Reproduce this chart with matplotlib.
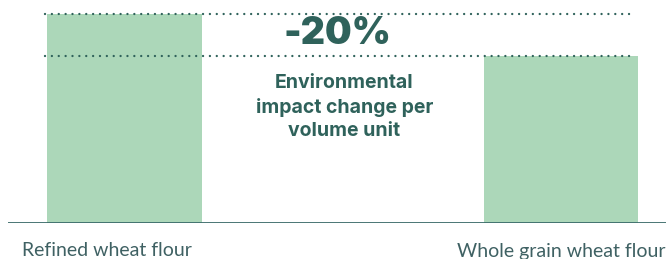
import matplotlib.pyplot as plt
import matplotlib.transforms as mtransforms

# ===== DATA =====
categories = ["Refined wheat flour", "Whole grain wheat flour"]
impact = [100, 80]
change_label = "-20%"
note = "Environmental\nimpact change per\nvolume unit"

BAR_COLOR = "#acd7b9"
DARK = "#2f625b"
LABEL_COLOR = "#3f6163"

fig = plt.figure(figsize=(6.66, 2.59), dpi=100)
ax = fig.add_axes([8 / 666, 36 / 259, 1 - 8 / 666, 223 / 259])

ax.bar(range(len(impact)), impact, width=0.355, color=BAR_COLOR, zorder=1)

# dotted reference lines at each bar top
ax.hlines(impact, -0.183, 1.158, colors=DARK, linewidth=1.7,
          linestyles=[(0, (0.01, 2.9))], zorder=2)
for coll in ax.collections:
    coll.set_capstyle("round")

ax.axhline(0, color="#3b6b6a", linewidth=1.3, zorder=3)

ax.set_xlim(-0.268, 1.241)
ax.set_ylim(0, 106.7)
ax.axis("off")

mid = 0.483
ax.text(mid + 0.005, (impact[0] + impact[1]) / 2 + 0.5, change_label, ha="center",
        va="center", fontsize=27, fontweight="black", color=DARK, family="Inter")
ax.text(mid + 0.02, impact[1] - 8.5, note, ha="center", va="top", fontsize=14,
        fontweight="bold", color=DARK, family="Inter", linespacing=1.4)

trans = mtransforms.blended_transform_factory(ax.transData, fig.transFigure)
ax.text(-0.04, 8 / 259, categories[0], transform=trans, ha="center", va="center",
        fontsize=14, color=LABEL_COLOR, family="Lato")
ax.text(1.0, 8 / 259, categories[1], transform=trans, ha="center", va="center",
        fontsize=14, color=LABEL_COLOR, family="Lato")

fig.savefig("out.png", dpi=100)
